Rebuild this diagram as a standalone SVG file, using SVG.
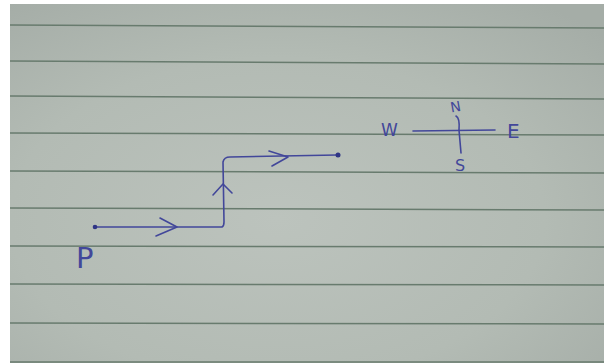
<svg xmlns="http://www.w3.org/2000/svg" width="604" height="363" viewBox="0 0 604 363">
  <defs>
    <radialGradient id="paper" cx="0.45" cy="0.6" r="0.75">
      <stop offset="0" stop-color="#bcc3bd"/>
      <stop offset="0.6" stop-color="#b3bbb4"/>
      <stop offset="1" stop-color="#a5ada7"/>
    </radialGradient>
    <style>
      .rule { stroke: #687b6e; stroke-width: 1.5; fill: none; }
      .ink { stroke: #42479a; stroke-width: 1.6; fill: none; stroke-linecap: round; stroke-linejoin: round; }
      .dot { fill: #2f3585; }
      .hand { font-family: "DejaVu Sans", "Liberation Sans", sans-serif; fill: #42479a; font-weight: normal; }
    </style>
  </defs>
  <rect x="0" y="0" width="604" height="363" fill="#ffffff"/>
  <rect x="10" y="4" width="594" height="359" fill="url(#paper)"/>
  <g id="ruling">
    <line class="rule" x1="10" y1="25" x2="604" y2="28"/>
    <line class="rule" x1="10" y1="61" x2="604" y2="64"/>
    <line class="rule" x1="10" y1="96" x2="604" y2="99"/>
    <line class="rule" x1="10" y1="133" x2="604" y2="135"/>
    <line class="rule" x1="10" y1="171" x2="604" y2="173"/>
    <line class="rule" x1="10" y1="208" x2="604" y2="210"/>
    <line class="rule" x1="10" y1="246" x2="604" y2="247"/>
    <line class="rule" x1="10" y1="284" x2="604" y2="285"/>
    <line class="rule" x1="10" y1="323" x2="604" y2="324"/>
    <line class="rule" x1="10" y1="362" x2="604" y2="362"/>
  </g>
  <g id="connectors">
    <path class="ink" d="M95 227 L222 227 Q224 226 224 222 L223 162 Q224 157 230 157 L337 155"/>
    <path class="ink" d="M160 218 L177 227 L156 236"/>
    <path class="ink" d="M213 195 L223 184 L232 193"/>
    <path class="ink" d="M269 151 L288 157 L272 166"/>
  </g>
  <g id="node-P">
    <circle class="dot" cx="95" cy="227" r="2.3"/>
    <text class="hand" x="76" y="268" font-size="29">P</text>
  </g>
  <g id="node-end">
    <circle class="dot" cx="338" cy="155" r="2.5"/>
  </g>
  <g id="compass">
    <path class="ink" d="M413 131 L495 130"/>
    <path class="ink" d="M456 116 Q460 118 459 130 L461 153"/>
    <text class="hand" x="381" y="136" font-size="17">W</text>
    <text class="hand" x="450" y="112" font-size="14" transform="rotate(-10 454 105)">N</text>
    <text class="hand" x="507" y="138" font-size="20">E</text>
    <text class="hand" x="455" y="171" font-size="16">S</text>
  </g>
</svg>
